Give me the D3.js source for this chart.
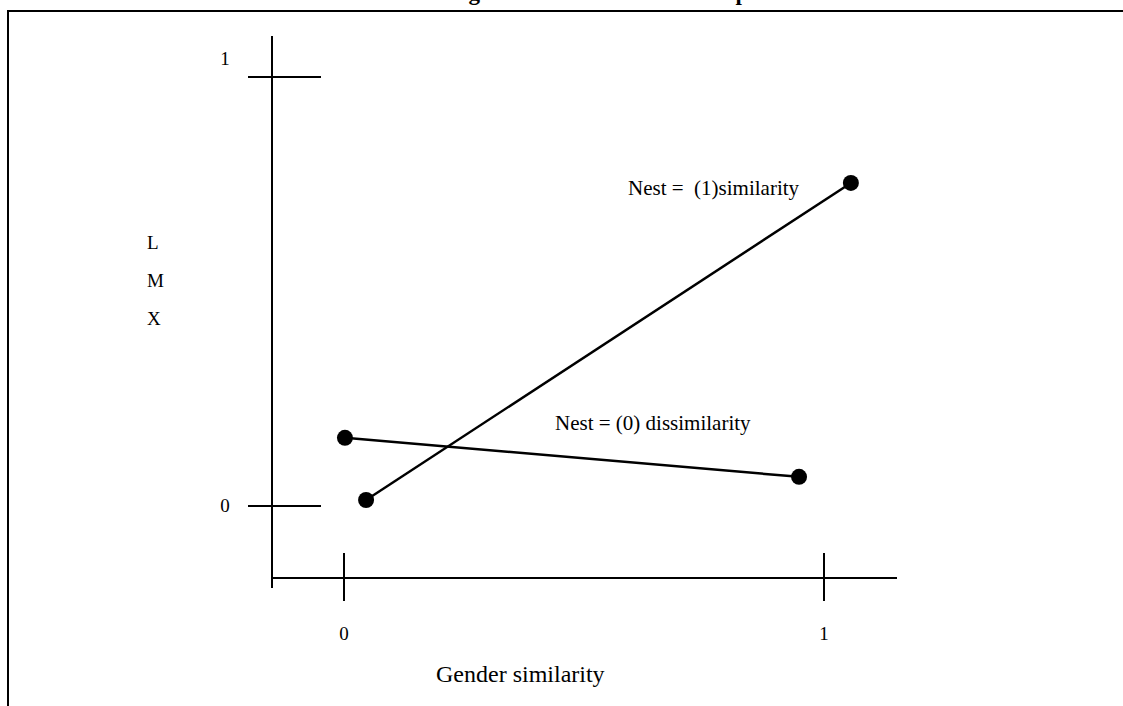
<!DOCTYPE html>
<html>
<head>
<meta charset="utf-8">
<script src="https://cdn.jsdelivr.net/npm/d3@7"></script>
<style>
body { margin: 0; background: #fff; }
text { font-family: "Liberation Serif", "Times New Roman", serif; fill: #000; }
</style>
</head>
<body>
<svg id="svg" width="1123" height="706"></svg>
<script>
var svg = d3.select("#svg");

// data
var xTicks = [0, 1];
var yTicks = [0, 1];
var seriesNames = ["Nest =  (1)similarity", "Nest = (0) dissimilarity"];
var nest1X = [0.046, 1.056];
var nest1Y = [0.014, 0.753];
var nest0X = [0.002, 0.948];
var nest0Y = [0.159, 0.068];
var yLetters = ["L", "M", "X"];

var x = d3.scaleLinear().domain([0, 1]).range([344, 824]);
var y = d3.scaleLinear().domain([0, 1]).range([506, 77]);

// frame (runs off the page right and bottom)
svg.append("rect")
.attr("x", 8).attr("y", 11)
.attr("width", 1200).attr("height", 800)
.attr("fill", "none")
.attr("stroke", "#000")
.attr("stroke-width", 2);

// title, sits above the page edge, only descenders show
svg.append("text")
.attr("x", 556).attr("y", 0)
.attr("text-anchor", "middle")
.style("font-size", "23px")
.style("font-weight", "bold")
.text("Moderating Effect of Nest Relationship");

var axisX = x(-0.15), axisY = y(-0.168);

// y axis line
svg.append("line")
.attr("x1", axisX).attr("x2", axisX)
.attr("y1", 36).attr("y2", 588)
.attr("stroke", "#000").attr("stroke-width", 2);

// x axis line
svg.append("line")
.attr("x1", axisX).attr("x2", 897)
.attr("y1", axisY).attr("y2", axisY)
.attr("stroke", "#000").attr("stroke-width", 2);

// y ticks + labels
svg.selectAll(".ytick").data(yTicks).enter().append("line")
.attr("class", "ytick")
.attr("x1", 248).attr("x2", 321)
.attr("y1", function(d){ return y(d); })
.attr("y2", function(d){ return y(d); })
.attr("stroke", "#000").attr("stroke-width", 2);

svg.selectAll(".ylab").data(yTicks).enter().append("text")
.attr("class", "ylab")
.attr("x", 225)
.attr("y", function(d){ return d === 1 ? y(d) - 12 : y(d) + 6; })
.attr("text-anchor", "middle")
.style("font-size", "19px")
.text(function(d){ return d; });

// x ticks + labels
svg.selectAll(".xtick").data(xTicks).enter().append("line")
.attr("class", "xtick")
.attr("x1", function(d){ return x(d); })
.attr("x2", function(d){ return x(d); })
.attr("y1", 553).attr("y2", 601)
.attr("stroke", "#000").attr("stroke-width", 2);

svg.selectAll(".xlab").data(xTicks).enter().append("text")
.attr("class", "xlab")
.attr("x", function(d){ return x(d); })
.attr("y", 640)
.attr("text-anchor", "middle")
.style("font-size", "19px")
.text(function(d){ return d; });

// axis titles
svg.append("text")
.attr("x", 436).attr("y", 682)
.style("font-size", "24px")
.text("Gender similarity");

svg.selectAll(".ylet").data(yLetters).enter().append("text")
.attr("class", "ylet")
.attr("x", 147)
.attr("y", function(d, i){ return 249 + i * 38; })
.style("font-size", "19px")
.text(function(d){ return d; });

// series
var series = [
  {name: seriesNames[0], pts: d3.zip(nest1X, nest1Y), lx: 628, ly: 195},
  {name: seriesNames[1], pts: d3.zip(nest0X, nest0Y), lx: 555, ly: 430}
];

var line = d3.line()
.x(function(d){ return x(d[0]); })
.y(function(d){ return y(d[1]); });

series.forEach(function(s) {
  svg.append("path")
  .attr("d", line(s.pts))
  .attr("fill", "none")
  .attr("stroke", "#000")
  .attr("stroke-width", 2.5);

  svg.selectAll(null).data(s.pts).enter().append("circle")
  .attr("cx", function(d){ return x(d[0]); })
  .attr("cy", function(d){ return y(d[1]); })
  .attr("r", 8)
  .attr("fill", "#000");

  svg.append("text")
  .attr("x", s.lx).attr("y", s.ly)
  .style("font-size", "21px")
  .attr("xml:space", "preserve")
  .text(s.name);
});
</script>
</body>
</html>
